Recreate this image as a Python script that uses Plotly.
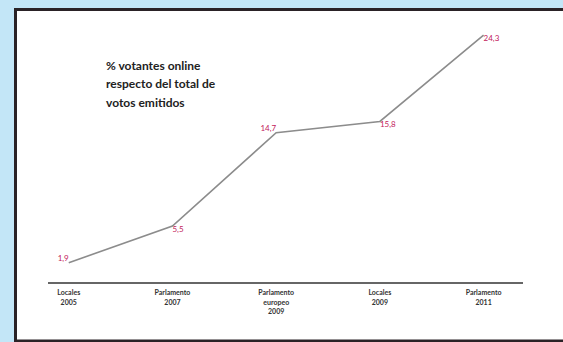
import plotly.graph_objects as go

categories = ["Locales<br>2005", "Parlamento<br>2007", "Parlamento<br>europeo<br>2009",
              "Locales<br>2009", "Parlamento<br>2011"]
values = [1.9, 5.5, 14.7, 15.8, 24.3]
value_labels = ["1,9", "5,5", "14,7", "15,8", "24,3"]
label_positions = ["top left", "bottom right", "top left", "bottom right", "bottom right"]
title_lines = ["% votantes online", "respecto del total de", "votos emitidos"]

W, H = 563, 342
L, R, T, B = 48, 40, 28, 60
pw, ph = W - L - R, H - T - B

def px_x(x):
    return (x - L) / pw

def px_y(y):
    return (H - B - y) / ph

fig = go.Figure()
fig.add_trace(go.Scatter(
    x=list(range(len(categories))), y=values,
    mode="lines+text",
    line=dict(color="#8c8c8c", width=1.6),
    text=value_labels, textposition=label_positions,
    textfont=dict(family="Lato", size=8, color="#c2185b"),
    hoverinfo="skip", showlegend=False,
))

shapes = [dict(type="rect", xref="paper", yref="paper",
               x0=px_x(15.5), x1=px_x(575), y0=px_y(341), y1=px_y(9.5),
               line=dict(color="#2a2226", width=3), fillcolor="white", layer="below")]

annotations = []
for i, t in enumerate(title_lines):
    annotations.append(dict(
        xref="paper", yref="paper", x=px_x(104), y=px_y(65 + 18.5 * i),
        text=f"<b>{t}</b>", showarrow=False, xanchor="left", yanchor="middle",
        font=dict(family="Lato", size=12, color="#222222")))

fig.update_layout(
    width=W, height=H,
    margin=dict(l=L, r=R, t=T, b=B),
    paper_bgcolor="#c3e6f7",
    plot_bgcolor="rgba(0,0,0,0)",
    shapes=shapes, annotations=annotations,
    xaxis=dict(
        range=[-0.2, 4.38], tickmode="array",
        tickvals=list(range(len(categories))),
        ticktext=[f"<b>{c}</b>" for c in categories],
        tickfont=dict(family="Lato", size=7, color="#333333"),
        showline=True, linecolor="#666666", linewidth=2,
        showgrid=False, zeroline=False, ticks="", ticklabelstandoff=3,
    ),
    yaxis=dict(range=[0, 25], visible=False, showgrid=False, zeroline=False),
)

fig.write_html("out.html")
